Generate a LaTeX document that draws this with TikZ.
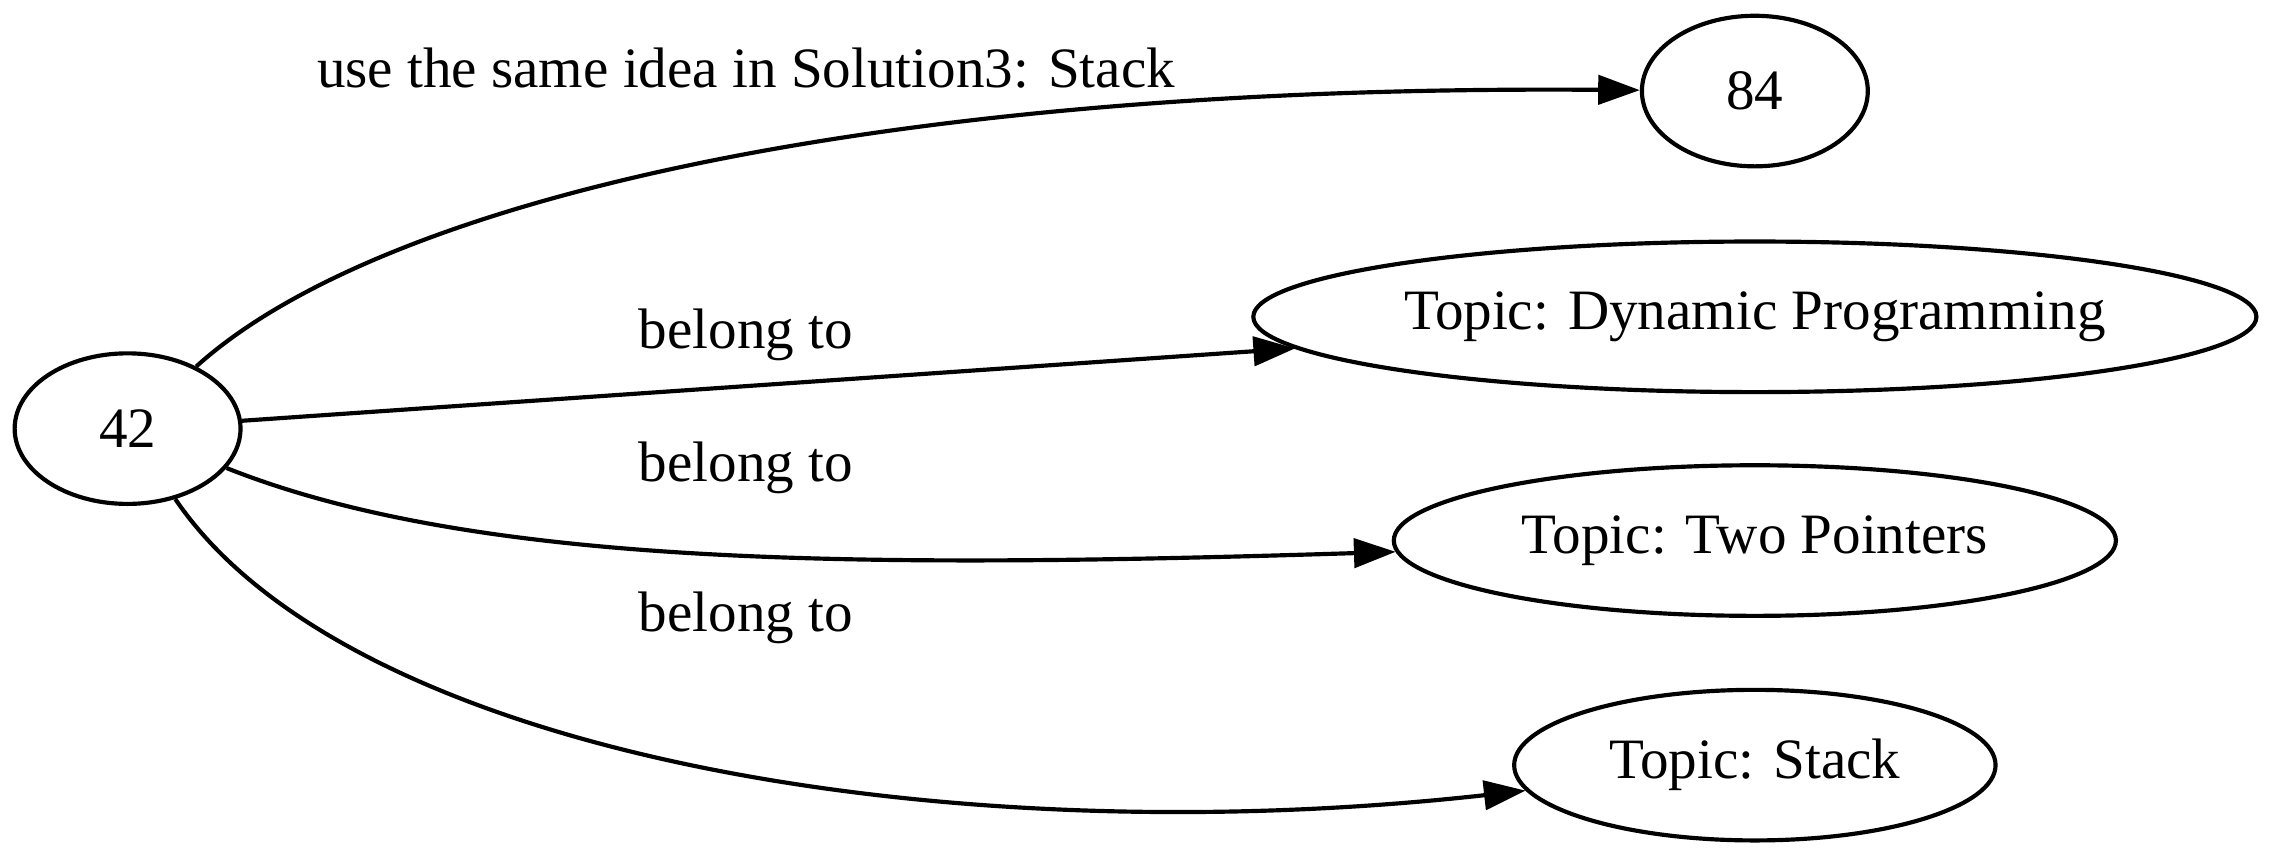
\documentclass[tikz,border=0pt]{standalone}
\usepackage{fontspec}
\setmainfont{Liberation Serif}
\usetikzlibrary{arrows.meta,shapes.geometric}

\begin{document}
\begin{tikzpicture}[
  problem/.style={draw,ellipse,line width=1pt,inner sep=0pt,minimum width=1.905cm,minimum height=1.27cm,font=\fontsize{13.7}{16}\selectfont},
  topic/.style={problem,minimum width=#1},
  link/.style={-{Triangle[length=10pt,width=7pt]},line width=1pt},
  lbl/.style={font=\fontsize{13.7}{16}\selectfont}]

\useasboundingbox (0,0) rectangle (19.17,7.239);

\node[problem] (p42) at (1.076,3.624) {42};
\node[problem] (p84) at (14.80,6.471) {84};
\node[topic=8.46cm] (dp) at (14.80,4.567) {Topic: Dynamic Programming};
\node[topic=6.09cm] (tp) at (14.80,2.680) {Topic: Two Pointers};
\node[topic=4.06cm] (st) at (14.80,0.786) {Topic: Stack};

\draw[link] (p42) .. controls (3.179,5.527) and (7.337,6.530) .. (p84);
\draw[link] (p42) -- (dp);
\draw[link] (p42) .. controls (4.035,2.446) and (7.337,2.446) .. (tp);
\draw[link] (p42) .. controls (2.935,0.880) and (7.948,0.024) .. (st);

\node[lbl] (l84) at (6.291,6.664) {use the same idea in Solution3: Stack};
\node[lbl] (ldp) at (6.291,4.414) {belong to};
\node[lbl] (ltp) at (6.291,3.289) {belong to};
\node[lbl] (lst) at (6.291,2.030) {belong to};
\end{tikzpicture}
\end{document}
